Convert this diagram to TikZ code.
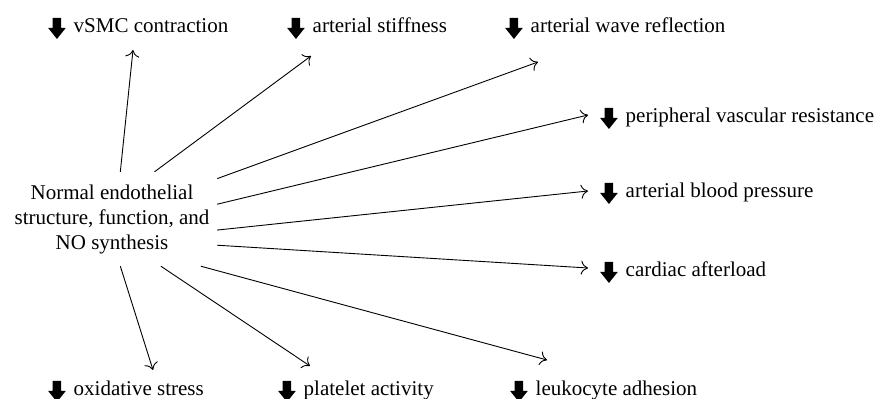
\documentclass[tikz,border=0pt]{standalone}
\usepackage{fontspec}
\setmainfont{Liberation Serif}
\usetikzlibrary{arrows.meta}

\def \iconsep {8pt}
\newcommand{\downicon}{\tikz[baseline=0pt, x=1pt, y=1pt] \fill (4.5,15) -- (13,15) -- (13,5) -- (17.5,5) -- (8.75,-6) -- (0,5) -- (4.5,5) -- cycle;\hspace{\iconsep}}

\begin{document}
\begin{tikzpicture}[x=1pt, y=1pt,
  every node/.style={font=\fontsize{21}{25}\selectfont},
  lbl/.style={anchor=base west, inner sep=0pt},
  effect/.style={->, >={To[length=7pt, width=14pt]}, line width=0.9pt}]
\useasboundingbox (0,0) rectangle (879,399);

\node[align=center, minimum width=210pt, minimum height=94pt, inner sep=0pt] (nos) at (112,180) {Normal endothelial\\structure, function, and\\NO synthesis};

% upper row
\node[lbl] (vsmc) at (48,366) {\downicon vSMC contraction};
\node[lbl] (stiff) at (287,366) {\downicon arterial stiffness};
\node[lbl] (wave) at (505,366) {\downicon arterial wave reflection};
% right column
\node[lbl] (peri) at (600,276) {\downicon peripheral vascular resistance};
\node[lbl] (bp) at (600,201) {\downicon arterial blood pressure};
\node[lbl] (ca) at (600,122) {\downicon cardiac afterload};
% lower row
\node[lbl] (ox) at (48,3) {\downicon oxidative stress};
\node[lbl] (plt) at (278,3) {\downicon platelet activity};
\node[lbl] (leu) at (510,3) {\downicon leukocyte adhesion};

\draw[effect] (nos.80) -- ([shift={(85,-17)}]vsmc.base west);
\draw[effect] (nos.48) -- ([shift={(24,-23)}]stiff.base west);
\draw[effect] (nos.21) -- ([shift={(33,-29)}]wave.base west);
\draw[effect] (nos.8) -- ([shift={(-12,8)}]peri.base west);
\draw[effect] (nos.-6) -- ([shift={(-12,7)}]bp.base west);
\draw[effect] (nos.-14) -- ([shift={(-12,9)}]ca.base west);
\draw[effect] (nos.-28) -- ([shift={(37,36)}]leu.base west);
\draw[effect] (nos.-44) -- ([shift={(32,30)}]plt.base west);
\draw[effect] (nos.-80) -- ([shift={(105,26)}]ox.base west);
\end{tikzpicture}
\end{document}
